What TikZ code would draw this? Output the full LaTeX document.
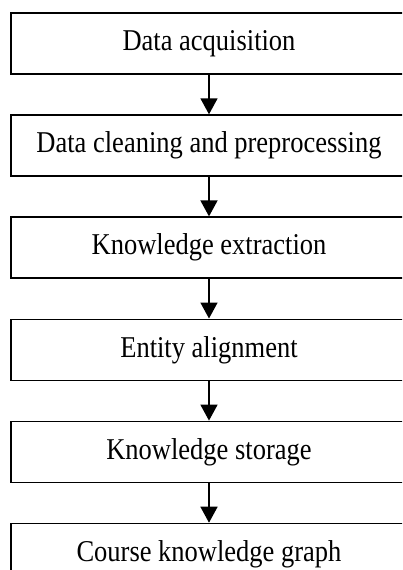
\documentclass[tikz,border=0pt]{standalone}
\usepackage{fontspec}
\setmainfont{Liberation Serif}
\usetikzlibrary{arrows.meta,positioning}
\newcommand{\stagetext}[1]{\scalebox{1}[1.14]{#1}}
\tikzset{
    stage/.style={
        rectangle,
        draw=black,
        line width=1.6pt,
        minimum width=396pt,
        minimum height=61pt,
        inner sep=0pt,
        font=\fontsize{26.5}{30}\selectfont
    },
    flow/.style={
        ->,
        line width=1.6pt
    }
}

\begin{document}
\begin{tikzpicture}[x=1pt,y=1pt,node distance=39.5pt,>={Triangle[length=16pt,width=17pt]}]
    \clip (0,0) rectangle (402,-570);
    \node [stage] (acq) at (209,-43.5) {\stagetext{Data acquisition}};
    \node [stage] (clean) [below=of acq] {\stagetext{Data cleaning and preprocessing}};
    \node [stage] (extract) [below=of clean] {\stagetext{Knowledge extraction}};
    \node [stage] (align) [below=of extract] {\stagetext{Entity alignment}};
    \node [stage] (store) [below=of align] {\stagetext{Knowledge storage}};
    \node [stage] (graph) [below=of store] {\stagetext{Course knowledge graph}};
    \draw [flow] (acq) -- (clean);
    \draw [flow] (clean) -- (extract);
    \draw [flow] (extract) -- (align);
    \draw [flow] (align) -- (store);
    \draw [flow] (store) -- (graph);
\end{tikzpicture}
\end{document}
